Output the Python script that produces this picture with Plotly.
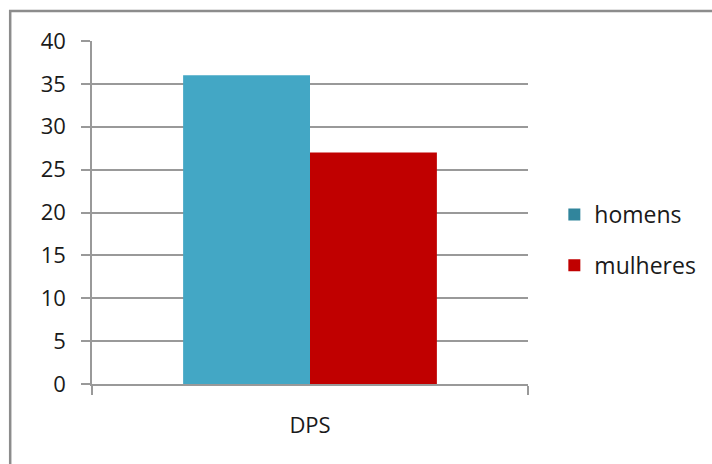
import plotly.graph_objects as go

categories = ["DPS"]
homens = [36]
mulheres = [27]
series_names = ["homens", "mulheres"]
yticks = [0, 5, 10, 15, 20, 25, 30, 35, 40]

bar_colors = ["#43A7C5", "#C00000"]
legend_colors = ["#31859C", "#C00000"]
FONT = "Open Sans"
FS = 22

fig = go.Figure()
for name, vals, col in zip(series_names, [homens, mulheres], bar_colors):
    fig.add_trace(go.Bar(x=categories, y=vals, name=name, marker_color=col,
                         marker_line_width=0, showlegend=False))
for i, (name, col) in enumerate(zip(series_names, legend_colors)):
    fig.add_trace(go.Scatter(x=[None], y=[None], mode="markers", name=name,
                             legendgroup=f"g{i}",
                             marker=dict(symbol="square", size=12, color=col)))

fig.update_layout(
    width=712, height=464,
    margin=dict(l=92, r=183, t=41, b=80),
    paper_bgcolor="white", plot_bgcolor="white",
    barmode="group", bargap=0.418, bargroupgap=0,
    font=dict(family=FONT, size=FS, color="#1a1a1a"),
    legend=dict(x=1.058, y=0.42, xanchor="left", yanchor="middle",
                tracegroupgap=18, font=dict(size=23, family=FONT),
                itemwidth=30),
    xaxis=dict(showline=True, linecolor="#999999", linewidth=1.6,
               ticks="outside", ticklen=9, tickcolor="#999999", tickwidth=1.6,
               tickson="boundaries", tickfont=dict(size=FS),
               ticklabelstandoff=21),
    yaxis=dict(range=[0, 40], tickvals=yticks, showgrid=True,
               gridcolor="#999999", gridwidth=1.6, showline=True,
               linecolor="#999999", linewidth=1.6, ticks="outside",
               ticklen=9, tickcolor="#999999", tickwidth=1.6, zeroline=False,
               ticklabelstandoff=11, tickfont=dict(size=FS)),
    shapes=[dict(type="rect", xref="paper", yref="paper",
                 x0=(10 - 92) / 437, x1=2.0, y0=-1.0,
                 y1=(383.5 - 11) / 342.5,
                 line=dict(color="#8C8C8C", width=2.5), fillcolor="rgba(0,0,0,0)")],
)
fig.write_html("out.html", config={"displayModeBar": False},
               post_script="document.body.style.margin='0';")
